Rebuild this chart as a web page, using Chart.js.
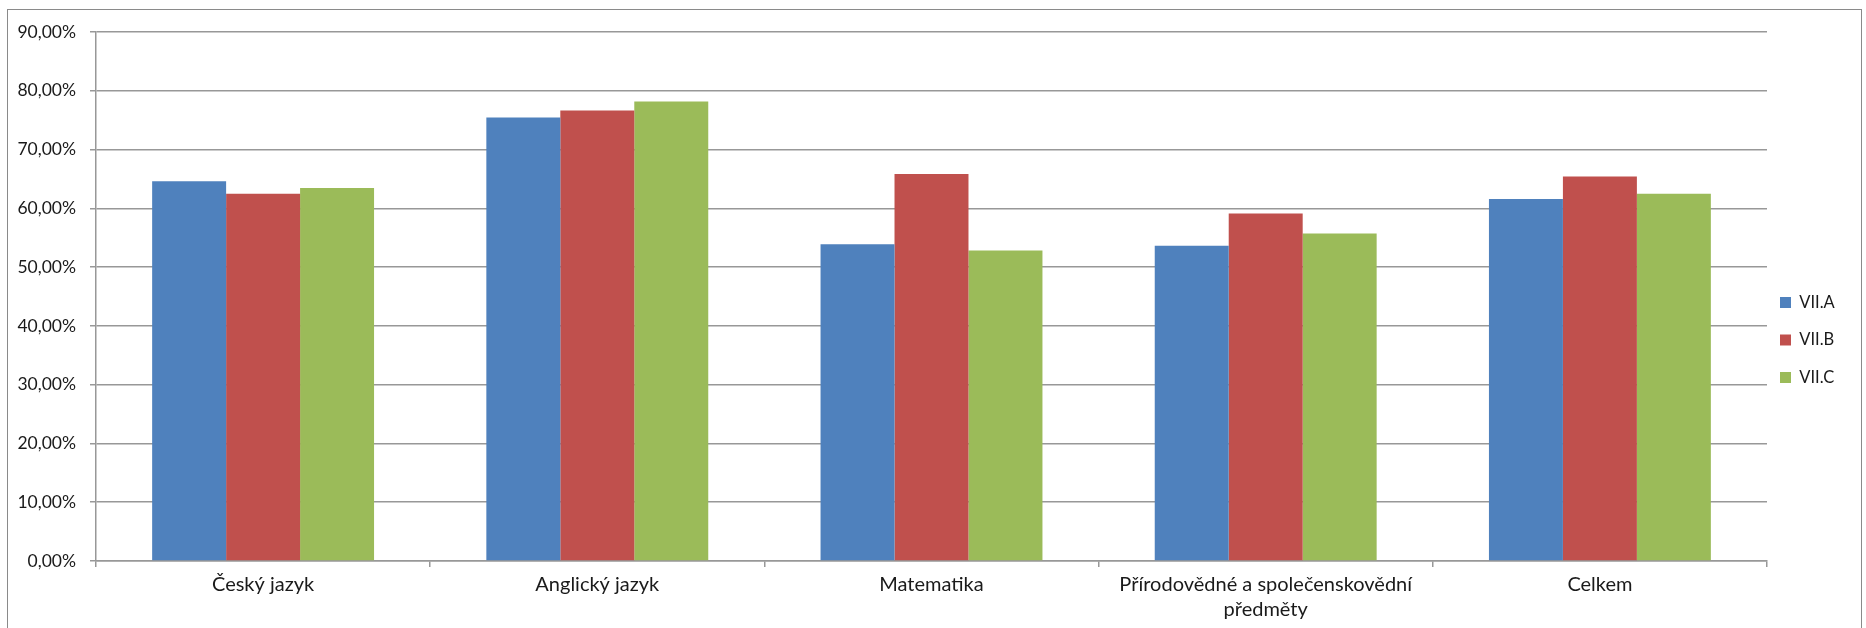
<!DOCTYPE html>
<html>
<head>
<meta charset="utf-8">
<script src="https://cdn.jsdelivr.net/npm/chart.js@4.4.1/dist/chart.umd.min.js"></script>
<style>
  html, body { margin: 0; padding: 0; background: #ffffff; }
  #wrap { width: 1866px; height: 628px; position: relative; }
</style>
</head>
<body>
<div id="wrap"><canvas id="c"></canvas></div>
<script>
const categories = [
  "Český jazyk",
  "Anglický jazyk",
  "Matematika",
  ["Přírodovědné a společenskovědní", "předměty"],
  "Celkem"
];
const seriesNames = ["VII.A", "VII.B", "VII.C"];
const valuesA = [64.6, 75.45, 53.87, 53.65, 61.6];
const valuesB = [62.5, 76.64, 65.85, 59.1, 65.4];
const valuesC = [63.48, 78.18, 52.84, 55.7, 62.5];
const yTicks = [0, 10, 20, 30, 40, 50, 60, 70, 80, 90];

const colors = ["#4F81BD", "#C0504D", "#9BBB59"];
const FONT = "Lato, 'Liberation Sans', sans-serif";
const GRID = "#989898";
const LEGEND_PAD = 21;

const framePlugin = {
  id: "frame",
  beforeDraw(chart) {
    const ctx = chart.ctx;
    ctx.save();
    ctx.fillStyle = "#ffffff";
    ctx.fillRect(0, 0, chart.width, chart.height);
    ctx.strokeStyle = "#8a8a8a";
    ctx.lineWidth = 1;
    ctx.strokeRect(7.5, 9.5, 1854, 700);
    ctx.restore();
  }
};

// place the library legend box where the reference places it
const legendNudge = {
  id: "legendNudge",
  afterLayout(chart) {
    const lg = chart.legend;
    if (!lg) return;
    const w = lg.right - lg.left;
    lg.left = chart.chartArea.right + 13 - LEGEND_PAD;
    lg.right = lg.left + w;
    lg.top += 10; lg.bottom += 10;
  }
};

new Chart(document.getElementById("c"), {
  type: "bar",
  data: {
    labels: categories,
    datasets: [
      { label: seriesNames[0], data: valuesA, backgroundColor: colors[0] },
      { label: seriesNames[1], data: valuesB, backgroundColor: colors[1] },
      { label: seriesNames[2], data: valuesC, backgroundColor: colors[2] }
    ]
  },
  options: {
    responsive: true,
    maintainAspectRatio: false,
    animation: false,
    devicePixelRatio: 1,
    layout: { padding: { top: 32, right: 15, bottom: 0, left: 0 } },
    datasets: { bar: { categoryPercentage: 0.664, barPercentage: 1.0, borderWidth: 0 } },
    plugins: {
      legend: {
        position: "right",
        align: "center",
        maxWidth: 84,
        labels: {
          boxWidth: 11,
          boxHeight: 11,
          padding: LEGEND_PAD,
          color: "#1a1a1a",
          font: { family: FONT, size: 16.5 }
        }
      },
      tooltip: { enabled: false }
    },
    scales: {
      x: {
        offset: true,
        grid: { display: true, drawOnChartArea: false, drawTicks: true, tickLength: 6, color: GRID, lineWidth: 1.5, offset: true },
        border: { display: true, color: GRID, width: 1.5 },
        ticks: { color: "#1a1a1a", font: { family: FONT, size: 20, lineHeight: 1.25 }, padding: 5, maxRotation: 0, autoSkip: false },
        afterFit(scale) { scale.height = 67; }
      },
      y: {
        min: 0,
        max: 90,
        afterBuildTicks(scale) { scale.ticks = yTicks.map(v => ({ value: v })); },
        grid: { color: GRID, lineWidth: 1.5, tickLength: 6, drawTicks: true },
        border: { display: true, color: GRID, width: 1.5 },
        ticks: {
          color: "#1a1a1a",
          font: { family: FONT, size: 17.5 },
          padding: 14,
          callback: v => v.toFixed(2).replace(".", ",") + "%"
        },
        afterFit(scale) { scale.width = 96; }
      }
    }
  },
  plugins: [framePlugin, legendNudge]
});
</script>
</body>
</html>
